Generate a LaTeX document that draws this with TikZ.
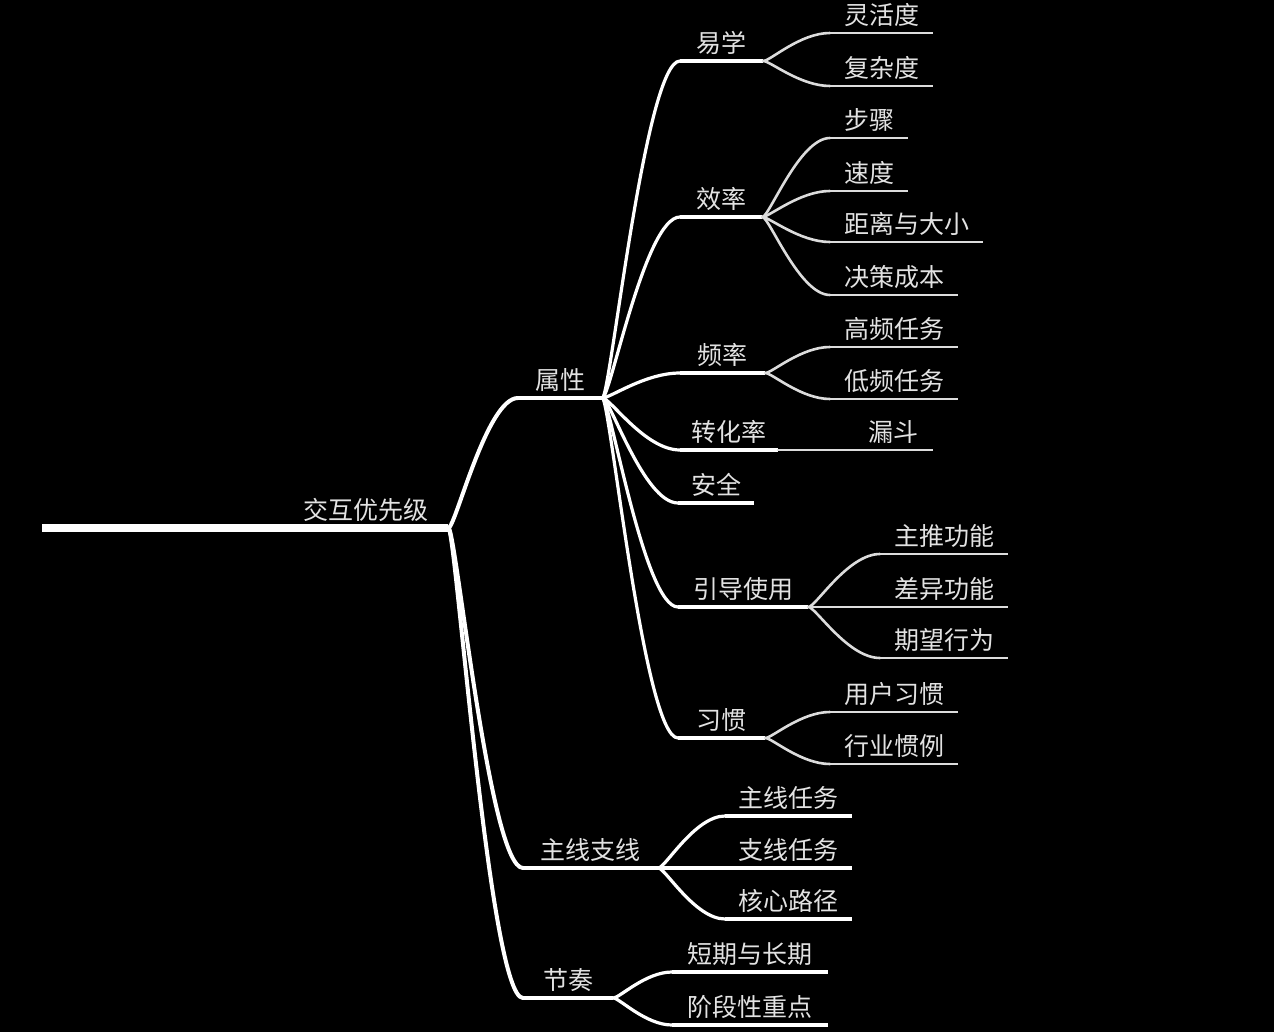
\documentclass[tikz,border=0pt]{standalone}
\usepackage{fontspec}
\usepackage{tikz}
\usetikzlibrary{calc}
\newfontfamily\cjk{Noto Sans CJK SC}
\definecolor{mmtext}{HTML}{E2E2E2}
\definecolor{mmline}{HTML}{FFFFFF}
\definecolor{mmleaf}{HTML}{DCDCDC}

\newcommand\branch[3]{%
  \draw[#1, line cap=round] let \p1=(#2.south east), \p2=(#3.south west) in
    (\p1) .. controls ({\x1+0.1*(\x2-\x1)},\y1) and ({\x2-0.45*(\x2-\x1)},\y2) .. (\p2);}

\begin{document}
\begin{tikzpicture}[x=1pt, y=-1pt,
  topic/.style={anchor=south west, minimum width=#1, minimum height=36pt, inner sep=0pt,
    text=mmtext, font=\cjk\fontsize{25}{30}\selectfont},
  l0/.style={draw=mmline, line width=8pt},
  l1/.style={draw=mmline, line width=4pt},
  l2/.style={draw=mmline, line width=3.2pt},
  l3/.style={draw=mmleaf, line width=2.6pt}
]
  \path[use as bounding box, fill=black] (0,0) rectangle (1274,1032);

  \node[topic=406, text width=366pt, align=right, inner xsep=20pt] (root) at (42,528) {交互优先级};

  \node[topic=84] (shuxing) at (518,398) {属性};
  \node[topic=135] (zhuxian) at (523,868) {主线支线};
  \node[topic=90] (jiezou) at (523,998) {节奏};

  \node[topic=83] (yixue) at (680,61) {易学};
  \node[topic=82] (xiaolv) at (680,217) {效率};
  \node[topic=85] (pinlv) at (680,373) {频率};
  \node[topic=98] (zhuanhua) at (680,450) {转化率};
  \node[topic=76] (anquan) at (678,503) {安全};
  \node[topic=130] (yindao) at (678,607) {引导使用};
  \node[topic=87] (xiguan) at (678,738) {习惯};

  \node[topic=103] (linghuo) at (830,33) {灵活度};
  \node[topic=103] (fuza) at (830,86) {复杂度};
  \node[topic=78] (buzhou) at (830,138) {步骤};
  \node[topic=78] (sudu) at (830,191) {速度};
  \node[topic=153] (juli) at (830,242) {距离与大小};
  \node[topic=128] (juece) at (830,295) {决策成本};
  \node[topic=128] (gaopin) at (830,347) {高频任务};
  \node[topic=128] (dipin) at (830,399) {低频任务};
  \node[topic=155, text width=125pt, align=right, inner xsep=15pt] (loudou) at (778,450) {漏斗};
  \node[topic=128] (zhutui) at (880,554) {主推功能};
  \node[topic=128] (chayi) at (880,607) {差异功能};
  \node[topic=128] (qiwang) at (880,658) {期望行为};
  \node[topic=128] (yonghu) at (830,712) {用户习惯};
  \node[topic=128] (hangye) at (830,764) {行业惯例};
  \node[topic=127] (zhuxianrw) at (725,816) {主线任务};
  \node[topic=127] (zhixianrw) at (725,868) {支线任务};
  \node[topic=127] (hexin) at (725,919) {核心路径};
  \node[topic=156] (duanqi) at (672,972) {短期与长期};
  \node[topic=156] (jieduan) at (672,1025) {阶段性重点};

  \draw[l0] (root.south west) -- (root.south east);
  \foreach \n in {shuxing,zhuxian,jiezou}
    \draw[l1] (\n.south west) -- (\n.south east);
  \foreach \n in {yixue,xiaolv,pinlv,zhuanhua,anquan,yindao,xiguan,
                  zhuxianrw,zhixianrw,hexin,duanqi,jieduan}
    \draw[l2] (\n.south west) -- (\n.south east);
  \foreach \n in {linghuo,fuza,buzhou,sudu,juli,juece,gaopin,dipin,loudou,
                  zhutui,chayi,qiwang,yonghu,hangye}
    \draw[l3] (\n.south west) -- (\n.south east);

  \foreach \c in {shuxing,zhuxian,jiezou} \branch{l1}{root}{\c};
  \foreach \c in {yixue,xiaolv,pinlv,zhuanhua,anquan,yindao,xiguan} \branch{l2}{shuxing}{\c};
  \foreach \c in {zhuxianrw,zhixianrw,hexin} \branch{l2}{zhuxian}{\c};
  \foreach \c in {duanqi,jieduan} \branch{l2}{jiezou}{\c};
  \foreach \c in {linghuo,fuza} \branch{l3}{yixue}{\c};
  \foreach \c in {buzhou,sudu,juli,juece} \branch{l3}{xiaolv}{\c};
  \foreach \c in {gaopin,dipin} \branch{l3}{pinlv}{\c};
  \branch{l3}{zhuanhua}{loudou};
  \foreach \c in {zhutui,chayi,qiwang} \branch{l3}{yindao}{\c};
  \foreach \c in {yonghu,hangye} \branch{l3}{xiguan}{\c};
\end{tikzpicture}
\end{document}
